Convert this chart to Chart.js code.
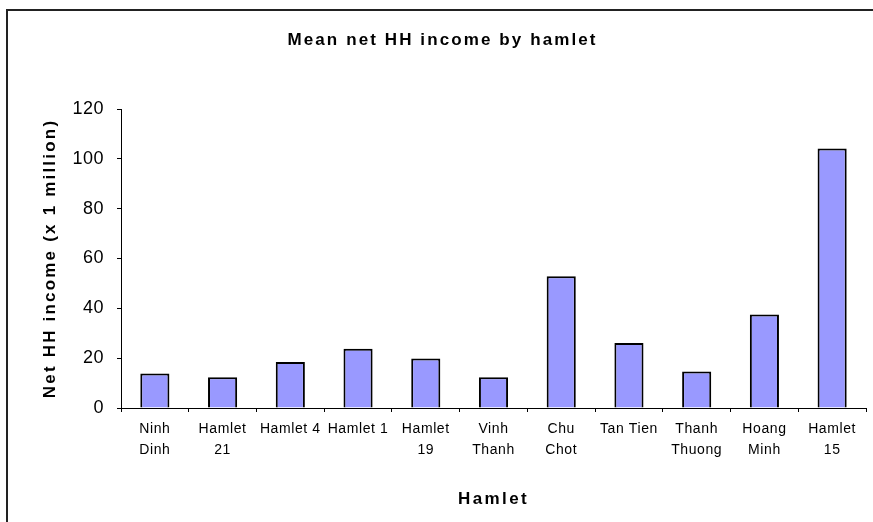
<!DOCTYPE html>
<html lang="en">
<head>
    <meta charset="UTF-8">
    <title>Mean net HH income by hamlet</title>
    <script src="https://cdn.jsdelivr.net/npm/chart.js"></script>
    <style>
        body {
            margin: 0;
            background: #fff;
        }
        #incomeChart {
            display: block;
        }
    </style>
</head>
<body>
    <canvas id="incomeChart" width="873" height="522"></canvas>

    <script>
        // Hamlet names (multi-line where the label wraps)
        const hamlets = [
            ['Ninh', 'Dinh'], ['Hamlet', '21'], 'Hamlet 4', 'Hamlet 1', ['Hamlet', '19'],
            ['Vinh', 'Thanh'], ['Chu', 'Chot'], 'Tan Tien', ['Thanh', 'Thuong'], ['Hoang', 'Minh'], ['Hamlet', '15']
        ];
        // Mean net household income, million
        const meanIncome = [13.8, 12.3, 18.5, 23.8, 19.9, 12.3, 52.9, 26.1, 14.6, 37.5, 104.1];
        const yTicks = [0, 20, 40, 60, 80, 100, 120];

        const SANS = 'Liberation Sans, Arial, sans-serif';

        // wrap a draw method so its text is drawn with extra letter spacing
        function spaced(obj, method, px, dx) {
            const orig = obj[method];
            obj[method] = function (...args) {
                const c = this.ctx;
                c.save();
                c.letterSpacing = px + 'px';
                if (dx) c.translate(dx, 0);
                orig.apply(this, args);
                c.restore();
            };
        }

        // Frame round the whole chart + wider text spacing
        const frame = {
            id: 'frame',
            beforeDraw(chart) {
                if (!chart.$spaced) {
                    chart.$spaced = true;
                    spaced(chart.titleBlock, 'draw', 2.1, 6);
                    spaced(chart.scales.x, 'drawLabels', 0.6);
                    spaced(chart.scales.x, 'drawTitle', 2.4);
                    spaced(chart.scales.y, 'drawLabels', 0.5);
                    spaced(chart.scales.y, 'drawTitle', 2.2);
                }
                const c = chart.ctx;
                c.save();
                c.fillStyle = '#fff';
                c.fillRect(0, 0, chart.width, chart.height);
                c.strokeStyle = '#222';
                c.lineWidth = 2;
                c.strokeRect(7, 10, chart.width + 20, chart.height + 20);
                c.restore();
            }
        };

        const ctx = document.getElementById('incomeChart').getContext('2d');
        new Chart(ctx, {
            type: 'bar',
            data: {
                labels: hamlets,
                datasets: [{
                    data: meanIncome,
                    backgroundColor: '#9999ff',
                    borderColor: '#000',
                    borderWidth: 2,
                    barPercentage: 0.43,
                    categoryPercentage: 1
                }]
            },
            options: {
                responsive: false,
                animation: false,
                layout: { padding: { left: 7, top: 10, right: 7, bottom: 0 } },
                plugins: {
                    legend: { display: false },
                    tooltip: { enabled: false },
                    title: {
                        display: true,
                        text: 'Mean net HH income by hamlet',
                        color: '#000',
                        font: { family: SANS, size: 17, weight: 'bold', lineHeight: 1.2 },
                        padding: { top: 20, bottom: 58.6 }
                    }
                },
                scales: {
                    x: {
                        grid: { drawOnChartArea: false, tickLength: 4, color: '#000', offset: true },
                        border: { color: '#000', width: 1 },
                        ticks: {
                            color: '#000',
                            padding: 7,
                            maxRotation: 0,
                            autoSkip: false,
                            font: { family: SANS, size: 14, lineHeight: 1.48 }
                        },
                        title: {
                            display: true,
                            text: 'Hamlet',
                            color: '#000',
                            font: { family: SANS, size: 17, weight: 'bold', lineHeight: 1.2 },
                            padding: { top: 0, bottom: 12 }
                        },
                        afterFit(scale) { scale.height = 114; }
                    },
                    y: {
                        min: 0,
                        max: 120,
                        grid: { drawOnChartArea: false, tickLength: 4, color: '#000' },
                        border: { color: '#000', width: 1 },
                        afterBuildTicks(scale) { scale.ticks = yTicks.map(v => ({ value: v })); },
                        ticks: {
                            color: '#000',
                            padding: 13,
                            font: { family: SANS, size: 18 }
                        },
                        title: {
                            display: true,
                            text: 'Net HH income (x 1 million)',
                            color: '#000',
                            font: { family: SANS, size: 17, weight: 'bold', lineHeight: 1.2 },
                            padding: { top: 33, bottom: 0 }
                        },
                        afterFit(scale) { scale.width = 114; }
                    }
                }
            },
            plugins: [frame]
        });
    </script>
</body>
</html>
